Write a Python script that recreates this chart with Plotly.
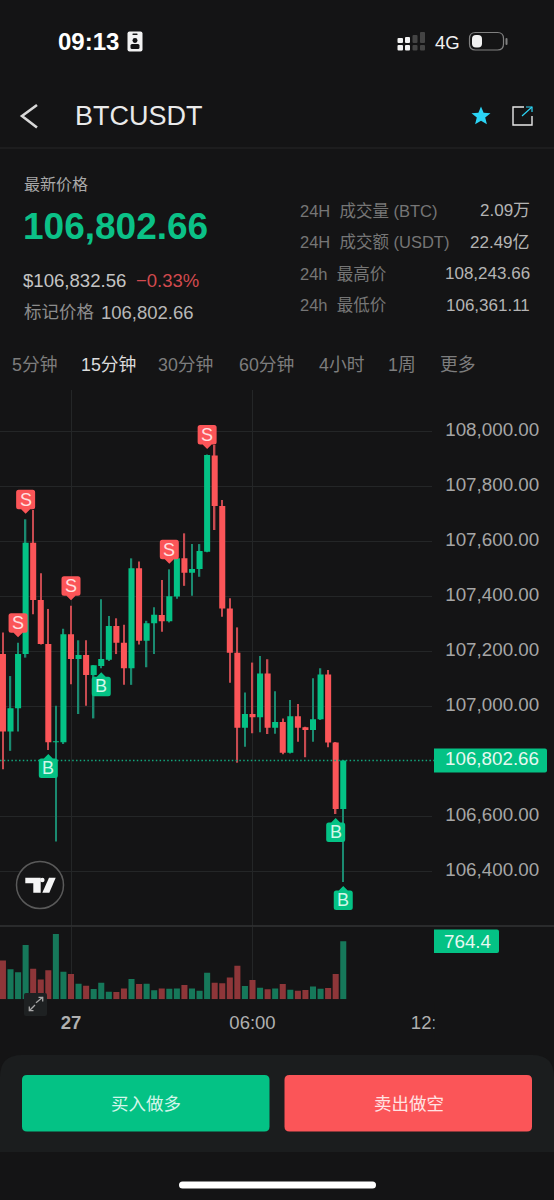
import pandas as pd
import plotly.graph_objects as go

W, H = 554, 1200
BG = "#141415"
GREEN = "#04c285"
RED = "#fb5558"
FONT = "Liberation Sans, Noto Sans CJK SC"

# 15 minute candles, the 27th starts at index 9
TIMES = pd.date_range("2025-06-26 21:45", periods=46, freq="15min")
OPENS = [107190, 106908, 106993, 107190, 107595, 107387, 107227, 106869, 106869, 107262,
         107172, 107187, 107114, 107147, 107169, 107292, 107231, 107138, 107502, 107238,
         107302, 107332, 107309, 107399, 107538, 107486, 107499, 107562, 107912, 107728,
         107356, 107195, 106922, 106972, 106960, 107119, 106922, 106943, 106831, 106964,
         106924, 106914, 106953, 107116, 106868, 106627]
CLOSES = [106908, 106993, 107190, 107595, 107387, 107227, 106869, 106873, 107262, 107172,
          107187, 107114, 107149, 107172, 107292, 107231, 107138, 107502, 107238, 107302,
          107333, 107309, 107400, 107538, 107486, 107499, 107565, 107914, 107728, 107356,
          107195, 106922, 106972, 106960, 107119, 106922, 106943, 106831, 106964, 106922,
          106914, 106953, 107116, 106868, 106627, 106802.66]
HIGHS = [107268, 107110, 107231, 107680, 107714, 107484, 107354, 107002, 107282, 107366,
         107240, 107240, 107150, 107389, 107328, 107320, 107297, 107538, 107527, 107311,
         107360, 107459, 107498, 107540, 107629, 107590, 107590, 107916, 107950, 107750,
         107393, 107287, 107050, 107159, 107183, 107171, 107055, 106956, 107023, 107008,
         106926, 107102, 107138, 107132, 106870, 106805]
LOWS = [106771, 106838, 106908, 107177, 107335, 107225, 106841, 106508, 106863, 107080,
        106972, 107002, 106956, 107138, 107165, 107190, 107078, 107078, 107225, 107142,
        107190, 107271, 107305, 107391, 107438, 107402, 107471, 107560, 107641, 107326,
        107086, 106795, 106853, 106902, 106906, 106899, 106900, 106826, 106828, 106871,
        106815, 106871, 106950, 106851, 106608, 106361]
VOLUMES = [511, 397, 358, 717, 402, 262, 384, 861, 363, 332, 206, 180, 135, 219, 101, 96,
           144, 266, 201, 206, 118, 144, 140, 144, 190, 144, 114, 350, 219, 210, 288, 442,
           174, 253, 153, 131, 144, 201, 127, 114, 122, 170, 140, 148, 332, 764.4]
SELL_SIGNALS = [2, 3, 9, 22, 27]
BUY_SIGNALS = [6, 13, 44, 45]

# 106,800 sits behind the last price tag in the app, so it is left out
PRICE_TICKS = [108000, 107800, 107600, 107400, 107200, 107000, 106600, 106400]
TIME_TICKS = ["2025-06-27 00:00", "2025-06-27 06:00", "2025-06-27 12:00"]
TIME_LABELS = ["<b>27</b>", "06:00", "12:00"]
LAST_PRICE = 106802.66
LAST_VOLUME = 764.4

TABS = [("5分钟", 11, "#7d7d7d"), ("15分钟", 80, "#dcdcdc"), ("30分钟", 157, "#7d7d7d"),
        ("60分钟", 238, "#7d7d7d"), ("4小时", 318, "#7d7d7d"), ("1周", 387, "#7d7d7d"),
        ("更多", 439, "#7d7d7d")]
STATS = [("24H\u00a0 成交量\u00a0(BTC)", "2.09万", 211), ("24H\u00a0 成交额\u00a0(USDT)", "22.49亿", 242),
         ("24h\u00a0 最高价", "108,243.66", 274), ("24h\u00a0 最低价", "106,361.11", 305)]


def px(x):
    return x / W


def py(y):
    return 1 - y / H


def chrome_path(d, fill=None, line=None, width=1.5):
    # page furniture, drawn in pixels from the top left corner of the figure
    return dict(type="path", path=d, xref="paper", yref="paper", xsizemode="pixel", ysizemode="pixel",
                xanchor=0, yanchor=1, fillcolor=fill or "rgba(0,0,0,0)",
                line=dict(color=line or "rgba(0,0,0,0)", width=width if line else 0))


def poly(points, close=True):
    d = "M" + " L".join(f"{x},{-y}" for x, y in points)
    return d + (" Z" if close else "")


def rrect(x0, y0, x1, y1, r):
    return (f"M{x0 + r},{-y0} L{x1 - r},{-y0} Q{x1},{-y0} {x1},{-y0 - r} L{x1},{-y1 + r} Q{x1},{-y1} {x1 - r},{-y1} "
            f"L{x0 + r},{-y1} Q{x0},{-y1} {x0},{-y1 + r} L{x0},{-y0 - r} Q{x0},{-y0} {x0 + r},{-y0} Z")


def label(x, y, text, size, color, anchor="left", bold=False):
    return dict(x=px(x), y=py(y), xref="paper", yref="paper", text=f"<b>{text}</b>" if bold else text,
                showarrow=False, xanchor=anchor, yanchor="middle", borderpad=0,
                font=dict(family=FONT, size=size, color=color))


def signal_shape(idx, kind):
    # flag with a pointer, in pixels around the candle's high or low
    s = 1 if kind == "S" else -1
    tip = 5.5 if kind == "S" else 4
    y_near, y_far = s * (tip + 4.5), s * (tip + 24)
    y_low, y_high = min(y_near, y_far), max(y_near, y_far)
    r = 2.5
    d = (f"M-9.5,{y_low + r} Q-9.5,{y_low} -7,{y_low} L7,{y_low} Q9.5,{y_low} 9.5,{y_low + r} "
         f"L9.5,{y_high - r} Q9.5,{y_high} 7,{y_high} L-7,{y_high} Q-9.5,{y_high} -9.5,{y_high - r} Z "
         f"M-4.5,{y_near} L0,{s * tip} L4.5,{y_near} Z")
    return dict(type="path", path=d, xref="x", yref="y", xsizemode="pixel", ysizemode="pixel",
                xanchor=TIMES[idx], yanchor=HIGHS[idx] if kind == "S" else LOWS[idx],
                fillcolor=RED if kind == "S" else GREEN, line=dict(width=0))


def signal_text(idx, kind):
    return dict(x=TIMES[idx], y=HIGHS[idx] if kind == "S" else LOWS[idx], xref="x", yref="y", text=kind,
                showarrow=False, yanchor="middle", yshift=19.5 if kind == "S" else -17.5,
                font=dict(family=FONT, size=18, color="#ffe0e0" if kind == "S" else "#d2f7e9"))


fig = go.Figure()

# wicks are thin bars in a dimmer colour, the candlestick on top only draws the bodies
wick_colors = ["#1a8a70" if c >= o else "#c84a50" for o, c in zip(OPENS, CLOSES)]
wick_spans = [h - l for h, l in zip(HIGHS, LOWS)]
wick_ms = 1.4 / 7.5625 * 15 * 60 * 1000
fig.add_trace(go.Bar(x=TIMES, y=wick_spans, base=LOWS, width=wick_ms, marker=dict(color=wick_colors, line=dict(width=0)),
                     xaxis="x", yaxis="y"))
fig.add_trace(go.Candlestick(x=TIMES, open=OPENS, high=HIGHS, low=LOWS, close=CLOSES, xaxis="x", yaxis="y",
                             increasing=dict(line=dict(color=GREEN, width=0), fillcolor=GREEN),
                             decreasing=dict(line=dict(color=RED, width=0), fillcolor=RED)))
volume_colors = ["#16785a" if c >= o else "#8e3639" for o, c in zip(OPENS, CLOSES)]
fig.add_trace(go.Bar(x=TIMES, y=VOLUMES, marker=dict(color=volume_colors, line=dict(width=0)), xaxis="x2", yaxis="y2"))

shapes = [
    # header
    chrome_path(poly([(0, 148), (554, 148)], False), line="#262728", width=1),
    chrome_path(poly([(37, 105), (22, 116), (37, 127.5)], False), line="#d8d8d8", width=2.6),
    chrome_path(poly([(481, 106.5), (483.6, 112.7), (490.5, 113.2), (485.2, 117.6), (486.9, 124.3),
                      (481, 120.7), (475.1, 124.3), (476.8, 117.6), (471.5, 113.2), (478.4, 112.7)]), fill="#2bd4f5"),
    chrome_path(poly([(524, 107), (513, 107), (513, 125), (532, 125), (532, 116)], False), line="#e8e8e8", width=1.4),
    chrome_path(poly([(522, 116), (532, 107)], False), line="#2bd4f5", width=1.2),
    chrome_path(poly([(526, 107), (532, 107), (532, 112)], False), line="#2bd4f5", width=1.2),
    # status bar
    chrome_path(rrect(127.5, 31.5, 142.5, 51.5, 2), fill="#f2f2f2"),
    chrome_path(rrect(132.5, 33.5, 137.5, 35, 0.5), fill=BG),
    chrome_path(rrect(132.5, 38, 137.5, 43, 2.4), fill=BG),
    chrome_path(rrect(130.5, 44, 139.5, 49, 1.5), fill=BG),
    chrome_path(rrect(397.5, 38, 403, 43, 1), fill="#f2f2f2"),
    chrome_path(rrect(397.5, 45, 403, 50.5, 1), fill="#f2f2f2"),
    chrome_path(rrect(405, 37, 410, 43, 1), fill="#f2f2f2"),
    chrome_path(rrect(405, 45, 410, 50.5, 1), fill="#f2f2f2"),
    chrome_path(rrect(412.5, 35, 417.5, 43, 1), fill="#444444"),
    chrome_path(rrect(412.5, 45, 417.5, 50.5, 1), fill="#444444"),
    chrome_path(rrect(420, 32, 425, 43, 1), fill="#444444"),
    chrome_path(rrect(420, 45, 425, 50.5, 1), fill="#444444"),
    chrome_path(rrect(469.5, 32.5, 503.5, 50, 6), line="#808080", width=1.2),
    chrome_path(rrect(472, 35, 482, 47.5, 4), fill="#f2f2f2"),
    chrome_path(rrect(505.5, 38, 507.5, 45, 1), fill="#808080"),
    # hides the part of the 12:00 tick that runs under the price column
    chrome_path(rrect(432, 385, 436, 1000, 0), fill=BG),
    chrome_path(rrect(434.5, 1003, 470, 1040, 0), fill=BG),
    # pane separator
    chrome_path(poly([(0, 926), (554, 926)], False), line="#323334", width=1.4),
    # last price line and tags
    dict(type="line", xref="paper", yref="y", x0=0, x1=px(434), y0=LAST_PRICE, y1=LAST_PRICE,
         line=dict(color="#12a57c", width=1.4, dash="1.5px,2.3px")),
    dict(type="path", xref="paper", yref="y", xsizemode="pixel", ysizemode="pixel", xanchor=px(434), yanchor=LAST_PRICE,
         path="M0,12 L111,12 Q113,12 113,10 L113,-10 Q113,-12 111,-12 L0,-12 Z", fillcolor=GREEN, line=dict(width=0)),
    chrome_path("M434,-929.5 L497,-929.5 Q499,-929.5 499,-931.5 L499,-951 Q499,-953 497,-953 L434,-953 Z", fill=GREEN),
    # tradingview badge
    dict(type="circle", xref="paper", yref="paper", x0=px(16.5), x1=px(63.5), y0=py(908.5), y1=py(861.5),
         fillcolor="#151516", line=dict(color="#5a5a5a", width=1.5)),
    chrome_path(poly([(25.3, 877.7), (40.7, 877.7), (40.7, 892.7), (33.3, 892.7), (33.3, 883.3), (25.3, 883.3)]), fill="#f5f5f5"),
    dict(type="circle", xref="paper", yref="paper", x0=px(40), x1=px(44.6), y0=py(882.3), y1=py(877.7),
         fillcolor="#f5f5f5", line=dict(width=0)),
    chrome_path(poly([(49, 877.7), (55.7, 877.7), (49.3, 892.7), (42.3, 892.7)]), fill="#f5f5f5"),
    # expand button
    chrome_path(rrect(24, 993, 47, 1016, 2), fill="#1e2122"),
    chrome_path(poly([(36, 1002.7), (42.7, 997.3)], False), line="#a8a8a8", width=1.3),
    chrome_path(poly([(38.5, 997.3), (42.7, 997.3), (42.7, 1001.5)], False), line="#a8a8a8", width=1.3),
    chrome_path(poly([(29.3, 1010.7), (35, 1005)], False), line="#a8a8a8", width=1.3),
    chrome_path(poly([(29.3, 1006.5), (29.3, 1010.7), (33.5, 1010.7)], False), line="#a8a8a8", width=1.3),
    # footer
    chrome_path("M0,-1152 L0,-1077 Q0,-1055 22,-1055 L532,-1055 Q554,-1055 554,-1077 L554,-1152 Z", fill="#1b1d1e"),
    chrome_path(rrect(22, 1075, 269.5, 1131.5, 5), fill=GREEN),
    chrome_path(rrect(284.5, 1075, 532, 1131.5, 5), fill=RED),
    chrome_path(rrect(179, 1181.5, 376, 1188.5, 3.5), fill="#ffffff"),
]
shapes += [signal_shape(i, "S") for i in SELL_SIGNALS] + [signal_shape(i, "B") for i in BUY_SIGNALS]

annotations = [
    label(57, 41.5, "09:13", 24, "#ffffff", bold=True),
    label(433.5, 42, "4G", 18.5, "#f0f0f0"),
    label(73.5, 116, "BTCUSDT", 27, "#eaeaea"),
    label(22.5, 184.5, "最新价格", 16, "#a8a8a8"),
    label(21.5, 226.5, "106,802.66", 37, "#0bc187", bold=True),
    label(22, 280.5, "$106,832.56", 18.6, "#c4c4c4"),
    label(135, 280.5, "−0.33%", 18.5, "#d24a4e"),
    label(22.5, 312, "标记价格", 17.5, "#8c8c8c"),
    label(100, 312, "106,802.66", 18.5, "#b8b8b8"),
    label(109.5, 1104, "买入做多", 17.5, "#d4f6ea"),
    label(372.5, 1104, "卖出做空", 17.5, "#ffe3e3"),
    dict(x=px(442.5), y=LAST_PRICE, xref="paper", yref="y", text=f"{LAST_PRICE:,.2f}", showarrow=False, xanchor="left",
         yanchor="middle", yshift=2, font=dict(family=FONT, size=18.8, color="#e6f8f1")),
    label(442.5, 941, f"{LAST_VOLUME}", 18.8, "#e6f8f1"),
]
for text, x, color in TABS:
    annotations.append(label(x, 365, text, 17.8, color))
for name, value, y in STATS:
    annotations.append(label(298.5, y, name, 16.5, "#767676"))
    annotations.append(label(531, y, value, 17, "#b4b4b4", anchor="right"))
annotations += [signal_text(i, "S") for i in SELL_SIGNALS] + [signal_text(i, "B") for i in BUY_SIGNALS]

# axis ranges are set so the price scale and the candle spacing land where the screenshot has them
step = pd.Timedelta(minutes=15)
time_27 = pd.Timestamp(TIME_TICKS[0])
x_range = [time_27 - step * (71 / 7.5625), time_27 + step * (363.2 / 7.5625)]
price_per_px = 1 / 0.275
y_range = [108000 - (925.7 - 431.3) * price_per_px, 108000 + (431.3 - 390) * price_per_px]

x_common = dict(domain=[0, px(434.2)], range=x_range, type="date", showgrid=True, gridcolor="#242627", gridwidth=1,
                zeroline=False, showline=False, automargin=False, tickmode="array", tickvals=TIME_TICKS,
                rangeslider=dict(visible=False))

fig.update_layout(
    width=W,
    height=H,
    margin=dict(l=0, r=0, t=0, b=0),
    paper_bgcolor=BG,
    plot_bgcolor=BG,
    showlegend=False,
    barmode="overlay",
    boxmode="overlay",
    boxgap=0.2,
    boxgroupgap=0,
    bargap=0.2,
    dragmode=False,
    xaxis=dict(anchor="y", showticklabels=False, ticks="", **x_common),
    xaxis2=dict(anchor="y2", ticktext=TIME_LABELS, ticks="", ticklabelstandoff=10,
                tickfont=dict(family=FONT, size=18.5, color="#b0b0b0"), **x_common),
    yaxis=dict(anchor="x", domain=[py(925.7), py(390)], range=y_range, side="right", tickmode="array",
               tickvals=PRICE_TICKS, tickformat=",.2f", ticks="", ticklabelstandoff=10, ticklabelshift=-2, showgrid=True,
               gridcolor="#242627", gridwidth=1, zeroline=False, showline=False, automargin=False,
               tickfont=dict(family=FONT, size=18.8, color="#a6a6a6")),
    yaxis2=dict(anchor="x2", domain=[py(999.3), py(927)], range=[0, 953], showgrid=False, zeroline=False,
                showticklabels=False, ticks="", automargin=False),
    shapes=shapes,
    annotations=annotations,
)

fig.write_html("out.html", config={"displayModeBar": False}, post_script="document.body.style.margin='0';document.body.style.background='#141415';")
